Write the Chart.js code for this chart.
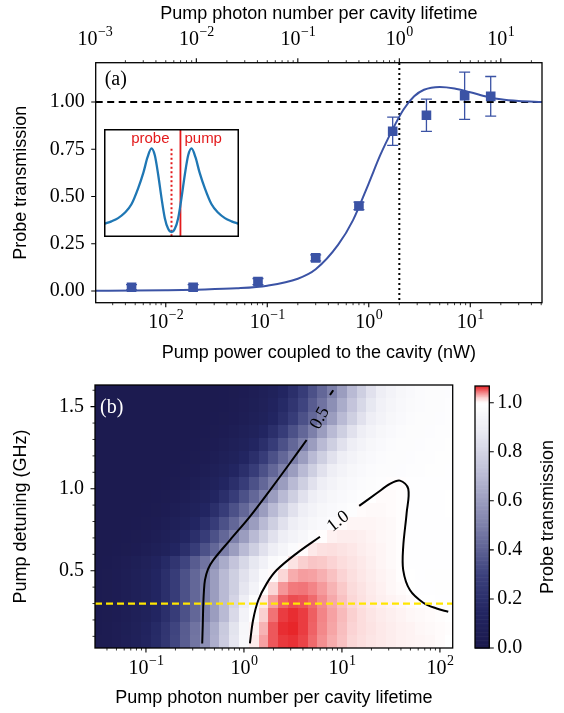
<!DOCTYPE html>
<html>
<head>
<meta charset="utf-8">
<script src="https://cdn.jsdelivr.net/npm/chart.js@4.4.1/dist/chart.umd.min.js"></script>
<style>
  body { margin: 0; background: #fff; }
  #wrap { position: relative; width: 564px; height: 713px; overflow: hidden; }
  canvas { position: absolute; }
</style>
</head>
<body>
<div id="wrap">
  <canvas id="topChart" width="564" height="370" style="left:0;top:0"></canvas>
  <canvas id="insetChart" width="135" height="108" style="left:104px;top:129px"></canvas>
  <canvas id="mapChart" width="564" height="343" style="left:0;top:370px"></canvas>
  <canvas id="cbarChart" width="124" height="343" style="left:440px;top:370px"></canvas>
</div>
<script>
// ---------- panel (a): probe transmission vs pump power ----------
const pumpPower = [0.0046, 0.0186, 0.081, 0.30, 0.80, 1.72, 3.7, 8.8, 15.9];   // nW
const probeTrans = [0.02, 0.02, 0.05, 0.175, 0.45, 0.845, 0.93, 1.033, 1.03];
const probeErr = [0.014, 0.014, 0.016, 0.016, 0.02, 0.075, 0.085, 0.125, 0.105];

const fitPower = [0.002, 0.005, 0.01, 0.02, 0.05, 0.1, 0.2, 0.3, 0.5, 0.7, 1.0, 1.3, 1.7, 2.2, 2.8, 3.5, 5, 7, 10, 15, 20, 30, 51];
const fitTrans = [0.001, 0.002, 0.004, 0.007, 0.014, 0.028, 0.065, 0.115, 0.245, 0.375, 0.57, 0.72, 0.85, 0.96, 1.03, 1.065, 1.08, 1.072, 1.052, 1.027, 1.014, 1.005, 1.0];

const transTicks = [0, 0.25, 0.5, 0.75, 1.0];
const oneHotPower = 2.0;          // nW for one photon per cavity lifetime (dotted line)
const photonsPerNW = 0.5;         // top axis conversion

// inset sketch: two dressed peaks, probe / pump positions
const insetDetuning = [-1.0, -0.9, -0.8, -0.7, -0.6, -0.5, -0.42, -0.36, -0.3, -0.25, -0.2, -0.15, -0.1, -0.05, 0.0, 0.05, 0.1, 0.15, 0.2, 0.25, 0.3, 0.36, 0.42, 0.5, 0.6, 0.7, 0.8, 0.9, 1.0];
const insetSpectrum = [0.118, 0.14, 0.17, 0.22, 0.3, 0.45, 0.6, 0.74, 0.825, 0.76, 0.58, 0.36, 0.17, 0.07, 0.04, 0.07, 0.17, 0.36, 0.58, 0.76, 0.825, 0.74, 0.6, 0.45, 0.3, 0.22, 0.17, 0.14, 0.118];
const probeLine = 0.0;
const pumpLine = 0.134;

// ---------- panel (b): map vs photon number and detuning ----------
const photonNumber = [0.0316, 0.0398, 0.0501, 0.0631, 0.0794, 0.1, 0.126, 0.158, 0.2, 0.251, 0.316, 0.398, 0.501, 0.631, 0.794, 1, 1.26, 1.58, 2.0, 2.51, 3.16, 3.98, 5.01, 6.31, 7.94, 10, 12.6, 15.8, 20, 25.1, 31.6, 39.8, 50.1, 63.1, 79.4, 100, 126];
const detuningGHz = [0.07, 0.15, 0.23, 0.31, 0.39, 0.47, 0.55, 0.63, 0.71, 0.79, 0.87, 0.95, 1.03, 1.11, 1.19, 1.27, 1.35, 1.43, 1.51, 1.59];
// one row per detuning (bottom to top), one value per photon number
const transMap = [
  [0.03,0.038,0.05,0.068,0.09,0.125,0.175,0.24,0.315,0.39,0.465,0.555,0.66,0.77,0.87,0.96,1.01,1.035,1.055,1.063,1.065,1.06,1.05,1.04,1.032,1.026,1.02,1.016,1.013,1.011,1.009,1.007,1.006,1.005,1.004,1.002,1.0],
  [0.027,0.035,0.047,0.065,0.087,0.12,0.17,0.235,0.31,0.385,0.46,0.55,0.65,0.76,0.86,0.95,1.006,1.03,1.055,1.066,1.068,1.062,1.052,1.042,1.034,1.027,1.021,1.017,1.014,1.011,1.009,1.007,1.006,1.004,1.003,1.002,1.001],
  [0.025,0.03,0.04,0.055,0.075,0.1,0.14,0.2,0.27,0.35,0.42,0.5,0.6,0.7,0.82,0.93,0.998,1.022,1.048,1.062,1.066,1.062,1.053,1.043,1.035,1.028,1.022,1.017,1.013,1.01,1.008,1.006,1.004,1.003,1.002,1.001,1.0],
  [0.025,0.03,0.04,0.055,0.075,0.1,0.14,0.2,0.27,0.35,0.42,0.5,0.6,0.7,0.8,0.9,0.99,1.012,1.036,1.052,1.058,1.056,1.05,1.041,1.033,1.026,1.02,1.015,1.011,1.008,1.006,1.004,1.002,1.0,0.998,0.997,0.996],
  [0.025,0.03,0.04,0.055,0.075,0.1,0.14,0.2,0.27,0.35,0.42,0.5,0.6,0.7,0.78,0.87,0.93,1.0,1.02,1.038,1.046,1.047,1.043,1.037,1.03,1.024,1.018,1.014,1.01,1.007,1.004,1.002,1.0,0.997,0.995,0.994,0.993],
  [0.025,0.03,0.04,0.055,0.075,0.1,0.14,0.2,0.27,0.35,0.42,0.5,0.6,0.7,0.78,0.85,0.9,0.97,1.002,1.02,1.032,1.036,1.035,1.031,1.026,1.021,1.016,1.012,1.009,1.006,1.004,1.001,0.998,0.996,0.994,0.993,0.992],
  [0.022,0.027,0.035,0.047,0.065,0.087,0.12,0.17,0.235,0.31,0.385,0.46,0.55,0.65,0.74,0.815,0.875,0.915,0.97,0.99,1.014,1.022,1.025,1.024,1.021,1.017,1.014,1.011,1.008,1.005,1.003,1.001,0.997,0.996,0.995,0.995,0.996],
  [0.02,0.02,0.025,0.03,0.04,0.055,0.075,0.1,0.14,0.2,0.27,0.35,0.42,0.5,0.6,0.7,0.78,0.85,0.9,0.94,0.975,1.002,1.011,1.015,1.016,1.014,1.012,1.009,1.007,1.005,1.003,1.001,0.997,0.996,0.996,0.996,0.997],
  [0.02,0.02,0.02,0.025,0.03,0.04,0.055,0.075,0.1,0.14,0.2,0.27,0.35,0.42,0.5,0.6,0.7,0.78,0.85,0.9,0.93,0.95,0.98,1.001,1.007,1.009,1.009,1.008,1.006,1.004,1.003,1.001,0.997,0.996,0.996,0.997,0.997],
  [0.02,0.02,0.02,0.02,0.025,0.03,0.04,0.055,0.075,0.1,0.14,0.2,0.27,0.35,0.42,0.5,0.6,0.7,0.78,0.85,0.9,0.93,0.95,0.965,0.985,1.002,1.005,1.005,1.005,1.004,1.003,1.001,0.997,0.996,0.996,0.997,0.997],
  [0.02,0.02,0.02,0.02,0.02,0.025,0.03,0.04,0.055,0.075,0.1,0.14,0.2,0.27,0.35,0.42,0.5,0.6,0.7,0.78,0.85,0.9,0.93,0.95,0.965,0.975,0.99,1.002,1.003,1.003,1.002,1.001,0.997,0.996,0.997,0.997,0.998],
  [0.02,0.02,0.02,0.02,0.02,0.02,0.025,0.03,0.04,0.055,0.075,0.1,0.14,0.2,0.27,0.35,0.42,0.5,0.6,0.7,0.78,0.85,0.9,0.93,0.95,0.965,0.975,0.99,1.0,1.002,1.002,1.001,0.996,0.996,0.997,0.997,0.998],
  [0.02,0.02,0.02,0.02,0.02,0.02,0.02,0.025,0.03,0.04,0.055,0.075,0.1,0.14,0.2,0.27,0.35,0.42,0.5,0.6,0.7,0.78,0.85,0.9,0.93,0.95,0.965,0.975,0.98,0.99,1.001,1.001,0.995,0.995,0.996,0.997,0.997],
  [0.02,0.02,0.02,0.02,0.02,0.02,0.02,0.02,0.025,0.03,0.04,0.055,0.075,0.1,0.14,0.2,0.27,0.35,0.42,0.5,0.6,0.7,0.78,0.85,0.9,0.93,0.95,0.965,0.975,0.98,0.983,0.985,0.988,0.99,0.992,0.994,0.995],
  [0.02,0.02,0.02,0.02,0.02,0.02,0.02,0.02,0.02,0.025,0.03,0.04,0.055,0.075,0.1,0.14,0.2,0.27,0.35,0.42,0.5,0.6,0.7,0.78,0.85,0.9,0.93,0.95,0.965,0.975,0.98,0.983,0.985,0.988,0.99,0.992,0.994],
  [0.02,0.02,0.02,0.02,0.02,0.02,0.02,0.02,0.02,0.02,0.025,0.03,0.04,0.055,0.075,0.1,0.14,0.2,0.27,0.35,0.42,0.5,0.6,0.7,0.78,0.85,0.9,0.93,0.95,0.965,0.975,0.98,0.983,0.985,0.988,0.99,0.992],
  [0.02,0.02,0.02,0.02,0.02,0.02,0.02,0.02,0.02,0.02,0.02,0.025,0.03,0.04,0.055,0.075,0.1,0.14,0.2,0.27,0.35,0.42,0.5,0.6,0.7,0.78,0.85,0.9,0.93,0.95,0.965,0.975,0.98,0.983,0.985,0.988,0.99],
  [0.02,0.02,0.02,0.02,0.02,0.02,0.02,0.02,0.02,0.02,0.02,0.02,0.025,0.03,0.04,0.055,0.075,0.1,0.14,0.2,0.27,0.35,0.42,0.5,0.6,0.7,0.78,0.85,0.9,0.93,0.95,0.965,0.975,0.98,0.983,0.985,0.988],
  [0.02,0.02,0.02,0.02,0.02,0.02,0.02,0.02,0.02,0.02,0.02,0.02,0.022,0.027,0.035,0.047,0.065,0.087,0.12,0.17,0.235,0.31,0.385,0.46,0.55,0.65,0.74,0.815,0.875,0.915,0.94,0.958,0.97,0.978,0.982,0.984,0.987],
  [0.02,0.02,0.02,0.02,0.02,0.02,0.02,0.02,0.02,0.02,0.02,0.02,0.02,0.025,0.03,0.04,0.055,0.075,0.1,0.14,0.2,0.27,0.35,0.42,0.5,0.6,0.7,0.78,0.85,0.9,0.93,0.95,0.965,0.975,0.98,0.983,0.985]
];

// contour lines (photon number, GHz)
const contourHalfA = [[0.375,0.057],[0.38,0.17],[0.384,0.28],[0.39,0.37],[0.40,0.443],[0.43,0.51],[0.486,0.565],[0.72,0.687],[1.15,0.83],[1.84,0.99],[2.94,1.155],[4.36,1.297]];
const contourHalfB = [[7.55,1.571],[8.15,1.60]];
const contourOneA = [[1.15,0.057],[1.24,0.2],[1.40,0.32],[1.71,0.423],[2.16,0.504],[3.45,0.606],[5.97,0.707]];
const contourOneB = [[15.0,0.895],[22.6,0.972],[30.9,1.029],[39.1,1.049],[47.5,1.0],[45.7,0.85],[42.2,0.646],[42.2,0.504],[49.4,0.382],[67.6,0.305],[92.5,0.27],[121.6,0.25]];
const contourLabels = [{ text: '0.5', n: 5.97, d: 1.43, rot: -62 }, { text: '1.0', n: 9.16, d: 0.80, rot: -38 }];
const cutDetuning = 0.30;
const mapTicksY = [0.5, 1.0, 1.5];
const cbarTicks = [0.0, 0.2, 0.4, 0.6, 0.8, 1.0];

// ---------- styling ----------
const SERIF = '"Liberation Serif", "DejaVu Serif", serif';
const SANS = '"Liberation Sans", "DejaVu Sans", sans-serif';
const TICK_PX = 20;
const LABEL_PX = 18;
const BLUE = '#3b53a5';
const RED = '#e31a1c';
const cmapStops = [
  [0.00, [27, 25, 77]],
  [0.15, [35, 38, 98]],
  [0.30, [60, 65, 125]],
  [0.50, [125, 128, 170]],
  [0.70, [185, 186, 212]],
  [0.90, [238, 238, 245]],
  [1.00, [255, 255, 255]],
  [1.02, [251, 215, 215]],
  [1.045, [242, 125, 128]],
  [1.07, [230, 30, 35]]
];

function cmap(v) {
  if (v <= cmapStops[0][0]) return 'rgb(' + cmapStops[0][1].join(',') + ')';
  for (let i = 1; i < cmapStops.length; i++) {
    if (v <= cmapStops[i][0]) {
      const [v0, c0] = cmapStops[i - 1];
      const [v1, c1] = cmapStops[i];
      const t = (v - v0) / (v1 - v0);
      return 'rgb(' + c0.map((c, k) => Math.round(c + (c1[k] - c) * t)).join(',') + ')';
    }
  }
  return 'rgb(' + cmapStops[cmapStops.length - 1][1].join(',') + ')';
}

function logTicks(min, max) {
  const major = [], minor = [];
  for (let k = Math.floor(Math.log10(min)); k <= Math.ceil(Math.log10(max)); k++) {
    for (let m = 1; m < 10; m++) {
      const v = m * Math.pow(10, k);
      if (v < min * 0.999 || v > max * 1.001) continue;
      (m === 1 ? major : minor).push(v);
    }
  }
  return { major, minor };
}

function hTicks(ctx, scale, vals, yEdge, len, dir) {
  ctx.beginPath();
  vals.forEach(v => {
    const px = scale.getPixelForValue(v);
    ctx.moveTo(px, yEdge);
    ctx.lineTo(px, yEdge + dir * len);
  });
  ctx.stroke();
}

function vTicks(ctx, scale, vals, xEdge, len, dir) {
  ctx.beginPath();
  vals.forEach(v => {
    const py = scale.getPixelForValue(v);
    ctx.moveTo(xEdge, py);
    ctx.lineTo(xEdge + dir * len, py);
  });
  ctx.stroke();
}

// "10" with a raised exponent, centred on x
function powLabel(ctx, x, y, exp, size) {
  const sup = exp < 0 ? '\u2212' + (-exp) : String(exp);
  ctx.font = size + 'px ' + SERIF;
  const wb = ctx.measureText('10').width;
  ctx.font = Math.round(size * 0.7) + 'px ' + SERIF;
  const ws = ctx.measureText(sup).width;
  const x0 = x - (wb + ws) / 2;
  ctx.textAlign = 'left';
  ctx.textBaseline = 'middle';
  ctx.font = size + 'px ' + SERIF;
  ctx.fillText('10', x0, y);
  ctx.font = Math.round(size * 0.7) + 'px ' + SERIF;
  ctx.fillText(sup, x0 + wb + 0.5, y - size * 0.38);
}

function vText(ctx, text, x, y) {
  ctx.save();
  ctx.translate(x, y);
  ctx.rotate(-Math.PI / 2);
  ctx.textAlign = 'center';
  ctx.textBaseline = 'middle';
  ctx.fillText(text, 0, 0);
  ctx.restore();
}

const pts = (xs, ys) => xs.map((x, i) => ({ x: x, y: ys[i] }));
const pairs = arr => arr.map(p => ({ x: p[0], y: p[1] }));

const baseOptions = {
  responsive: false,
  animation: false,
  events: [],
  devicePixelRatio: 1,
  plugins: { legend: { display: false }, tooltip: { enabled: false } }
};

// ---------- top chart ----------
const powerMin = 0.00204, powerMax = 50.9;

const topDecor = {
  id: 'topDecor',
  beforeDatasetsDraw(chart) {
    const { ctx } = chart;
    const { x, y } = chart.scales;
    ctx.save();
    ctx.strokeStyle = BLUE;
    ctx.lineWidth = 1.3;
    ctx.beginPath();
    pumpPower.forEach((p, i) => {
      const px = x.getPixelForValue(p);
      const y0 = y.getPixelForValue(probeTrans[i] - probeErr[i]);
      const y1 = y.getPixelForValue(probeTrans[i] + probeErr[i]);
      ctx.moveTo(px, y0); ctx.lineTo(px, y1);
      ctx.moveTo(px - 5.5, y0); ctx.lineTo(px + 5.5, y0);
      ctx.moveTo(px - 5.5, y1); ctx.lineTo(px + 5.5, y1);
    });
    ctx.stroke();
    ctx.restore();
  },
  afterDraw(chart) {
    const { ctx, chartArea: a } = chart;
    const { x, y, x2 } = chart.scales;
    ctx.save();
    ctx.strokeStyle = '#000';
    ctx.fillStyle = '#000';
    ctx.lineWidth = 1.3;
    ctx.strokeRect(a.left, a.top, a.right - a.left, a.bottom - a.top);
    const bt = logTicks(x.min, x.max);
    const tt = logTicks(x2.min, x2.max);
    ctx.lineWidth = 1.1;
    hTicks(ctx, x, bt.major, a.bottom, 4.5, 1);
    hTicks(ctx, x2, tt.major, a.top, 4.5, -1);
    vTicks(ctx, y, transTicks, a.left, 4.5, -1);
    ctx.lineWidth = 0.8;
    hTicks(ctx, x, bt.minor, a.bottom, 2.5, 1);
    hTicks(ctx, x2, tt.minor, a.top, 2.5, -1);

    bt.major.forEach(v => powLabel(ctx, x.getPixelForValue(v), a.bottom + 20, Math.round(Math.log10(v)), TICK_PX));
    [0.001, 0.01, 0.1, 1, 10].forEach(v => powLabel(ctx, x2.getPixelForValue(v), a.top - 23, Math.round(Math.log10(v)), TICK_PX));

    ctx.font = TICK_PX + 'px ' + SERIF;
    ctx.textAlign = 'right';
    ctx.textBaseline = 'middle';
    transTicks.forEach(v => ctx.fillText(v.toFixed(2), a.left - 11, y.getPixelForValue(v)));

    ctx.font = LABEL_PX + 'px ' + SANS;
    ctx.textAlign = 'center';
    ctx.fillText('Pump power coupled to the cavity (nW)', (a.left + a.right) / 2, a.bottom + 50);
    ctx.fillText('Pump photon number per cavity lifetime', (a.left + a.right) / 2, 14);
    vText(ctx, 'Probe transmission', 21, (a.top + a.bottom) / 2);

    ctx.font = '20px ' + SERIF;
    ctx.textAlign = 'left';
    ctx.fillText('(a)', a.left + 9, a.top + 17);
    ctx.restore();
  }
};

new Chart(document.getElementById('topChart'), {
  type: 'scatter',
  data: {
    datasets: [
      {
        data: pts(pumpPower, probeTrans),
        pointStyle: 'rect', pointRadius: 6.8,
        backgroundColor: BLUE, borderColor: BLUE, borderWidth: 0
      },
      {
        data: pts(fitPower, fitTrans),
        showLine: true, pointRadius: 0,
        borderColor: BLUE, borderWidth: 2,
        cubicInterpolationMode: 'monotone'
      },
      {
        data: [{ x: powerMin, y: 1 }, { x: powerMax, y: 1 }],
        showLine: true, pointRadius: 0,
        borderColor: '#000', borderWidth: 1.8, borderDash: [7, 4.5]
      },
      {
        data: [{ x: oneHotPower, y: -0.1 }, { x: oneHotPower, y: 1.3 }],
        showLine: true, pointRadius: 0,
        borderColor: '#000', borderWidth: 2, borderDash: [2, 3]
      }
    ]
  },
  options: {
    ...baseOptions,
    layout: { padding: { left: 95.7, right: 22, top: 62.7, bottom: 67.3 } },
    scales: {
      x: { type: 'logarithmic', min: powerMin, max: powerMax, display: false },
      x2: { type: 'logarithmic', position: 'top', min: powerMin * photonsPerNW, max: powerMax * photonsPerNW, display: false },
      y: { min: -0.062, max: 1.208, display: false }
    }
  },
  plugins: [topDecor]
});

// ---------- inset ----------
const insetDecor = {
  id: 'insetDecor',
  beforeDraw(chart) {
    const { ctx, chartArea: a } = chart;
    ctx.save();
    ctx.fillStyle = '#fff';
    ctx.fillRect(a.left, a.top, a.right - a.left, a.bottom - a.top);
    ctx.restore();
  },
  afterDraw(chart) {
    const { ctx, chartArea: a } = chart;
    const { x } = chart.scales;
    ctx.save();
    ctx.strokeStyle = '#000';
    ctx.lineWidth = 1.5;
    ctx.strokeRect(a.left, a.top, a.right - a.left, a.bottom - a.top);
    ctx.fillStyle = RED;
    ctx.font = '15px ' + SANS;
    ctx.textBaseline = 'middle';
    ctx.textAlign = 'right';
    ctx.fillText('probe', x.getPixelForValue(probeLine) - 2, a.top + 9);
    ctx.textAlign = 'left';
    ctx.fillText('pump', x.getPixelForValue(pumpLine) + 4, a.top + 9);
    ctx.restore();
  }
};

new Chart(document.getElementById('insetChart'), {
  type: 'scatter',
  data: {
    datasets: [
      {
        data: pts(insetDetuning, insetSpectrum),
        showLine: true, pointRadius: 0,
        borderColor: '#1f77b4', borderWidth: 2.3,
        cubicInterpolationMode: 'monotone'
      },
      {
        data: [{ x: probeLine, y: 0 }, { x: probeLine, y: 0.83 }],
        showLine: true, pointRadius: 0,
        borderColor: RED, borderWidth: 2, borderDash: [2, 2.5]
      },
      {
        data: [{ x: pumpLine, y: 0 }, { x: pumpLine, y: 1 }],
        showLine: true, pointRadius: 0,
        borderColor: RED, borderWidth: 1.8
      }
    ]
  },
  options: {
    ...baseOptions,
    layout: { padding: 0.75 },
    scales: {
      x: { min: -1, max: 1, display: false },
      y: { min: 0, max: 1, display: false }
    }
  },
  plugins: [insetDecor]
});

// ---------- map ----------
const mapMinN = 0.0302, mapMaxN = 135, mapMinD = 0.029, mapMaxD = 1.632;

function cellEdges(centres, geometric) {
  const e = [];
  for (let i = 0; i <= centres.length; i++) {
    if (i === 0) {
      e.push(geometric ? centres[0] * Math.sqrt(centres[0] / centres[1]) : centres[0] - (centres[1] - centres[0]) / 2);
    } else if (i === centres.length) {
      const n = centres.length - 1;
      e.push(geometric ? centres[n] * Math.sqrt(centres[n] / centres[n - 1]) : centres[n] + (centres[n] - centres[n - 1]) / 2);
    } else {
      e.push(geometric ? Math.sqrt(centres[i - 1] * centres[i]) : (centres[i - 1] + centres[i]) / 2);
    }
  }
  return e;
}

const mapDecor = {
  id: 'mapDecor',
  beforeDatasetsDraw(chart) {
    const { ctx, chartArea: a } = chart;
    const { x, y } = chart.scales;
    const ex = cellEdges(photonNumber, true);
    const ey = cellEdges(detuningGHz, false);
    ctx.save();
    ctx.beginPath();
    ctx.rect(a.left, a.top, a.right - a.left, a.bottom - a.top);
    ctx.clip();
    transMap.forEach((row, j) => {
      const y0 = Math.round(y.getPixelForValue(ey[j]));
      const y1 = Math.round(y.getPixelForValue(ey[j + 1]));
      row.forEach((v, i) => {
        const x0 = Math.round(x.getPixelForValue(ex[i]));
        const x1 = Math.round(x.getPixelForValue(ex[i + 1]));
        ctx.fillStyle = cmap(v);
        ctx.fillRect(x0, y1, x1 - x0, y0 - y1);
      });
    });
    ctx.restore();
  },
  afterDraw(chart) {
    const { ctx, chartArea: a } = chart;
    const { x, y } = chart.scales;
    ctx.save();
    ctx.strokeStyle = '#000';
    ctx.fillStyle = '#000';
    ctx.lineWidth = 1.3;
    ctx.strokeRect(a.left, a.top, a.right - a.left, a.bottom - a.top);
    const bt = logTicks(x.min, x.max);
    const minorY = [];
    for (let k = 1; k <= 16; k++) if (k % 5 !== 0) minorY.push(k / 10);
    ctx.lineWidth = 1.1;
    hTicks(ctx, x, bt.major, a.bottom, 4.5, 1);
    vTicks(ctx, y, mapTicksY, a.left, 4.5, -1);
    ctx.lineWidth = 0.8;
    hTicks(ctx, x, bt.minor, a.bottom, 2.5, 1);
    vTicks(ctx, y, minorY, a.left, 2.5, -1);

    bt.major.forEach(v => powLabel(ctx, x.getPixelForValue(v), a.bottom + 21, Math.round(Math.log10(v)), TICK_PX));
    ctx.font = TICK_PX + 'px ' + SERIF;
    ctx.textAlign = 'right';
    ctx.textBaseline = 'middle';
    mapTicksY.forEach(v => ctx.fillText(v.toFixed(1), a.left - 11, y.getPixelForValue(v)));

    ctx.font = LABEL_PX + 'px ' + SANS;
    ctx.textAlign = 'center';
    ctx.fillText('Pump photon number per cavity lifetime', (a.left + a.right) / 2, a.bottom + 50);
    vText(ctx, 'Pump detuning (GHz)', 21, (a.top + a.bottom) / 2);

    ctx.font = '18px ' + SERIF;
    contourLabels.forEach(l => {
      ctx.save();
      ctx.translate(x.getPixelForValue(l.n), y.getPixelForValue(l.d));
      ctx.rotate(l.rot * Math.PI / 180);
      ctx.textAlign = 'center';
      ctx.textBaseline = 'middle';
      ctx.fillText(l.text, 0, 0);
      ctx.restore();
    });

    ctx.fillStyle = '#fff';
    ctx.font = '20px ' + SERIF;
    ctx.textAlign = 'left';
    ctx.fillText('(b)', a.left + 5, a.top + 23);
    ctx.restore();
  }
};

const contourStyle = { showLine: true, pointRadius: 0, borderColor: '#000', borderWidth: 2, tension: 0.35 };

new Chart(document.getElementById('mapChart'), {
  type: 'scatter',
  data: {
    datasets: [
      {
        data: [{ x: mapMinN, y: cutDetuning }, { x: mapMaxN, y: cutDetuning }],
        showLine: true, pointRadius: 0,
        borderColor: '#ffe600', borderWidth: 2.2, borderDash: [7, 4]
      },
      { data: pairs(contourHalfA), ...contourStyle },
      { data: pairs(contourHalfB), ...contourStyle },
      { data: pairs(contourOneA), ...contourStyle },
      { data: pairs(contourOneB), ...contourStyle }
    ]
  },
  options: {
    ...baseOptions,
    layout: { padding: { left: 95, right: 111.3, top: 15, bottom: 65 } },
    scales: {
      x: { type: 'logarithmic', min: mapMinN, max: mapMaxN, display: false },
      y: { min: mapMinD, max: mapMaxD, display: false }
    }
  },
  plugins: [mapDecor]
});

// ---------- colour bar ----------
const cbarMax = 1.068;
const cbarDecor = {
  id: 'cbarDecor',
  afterDraw(chart) {
    const { ctx, chartArea: a } = chart;
    const { y } = chart.scales;
    ctx.save();
    const steps = 200;
    for (let k = 0; k < steps; k++) {
      const v0 = cbarMax * k / steps, v1 = cbarMax * (k + 1) / steps;
      const p0 = y.getPixelForValue(v0), p1 = y.getPixelForValue(v1);
      ctx.fillStyle = cmap((v0 + v1) / 2);
      ctx.fillRect(a.left, p1, a.right - a.left, p0 - p1 + 0.6);
    }
    ctx.strokeStyle = '#000';
    ctx.fillStyle = '#000';
    ctx.lineWidth = 1.3;
    ctx.strokeRect(a.left, a.top, a.right - a.left, a.bottom - a.top);
    ctx.lineWidth = 1.1;
    vTicks(ctx, y, cbarTicks, a.right, 4.5, 1);
    ctx.font = TICK_PX + 'px ' + SERIF;
    ctx.textAlign = 'left';
    ctx.textBaseline = 'middle';
    cbarTicks.forEach(v => ctx.fillText(v.toFixed(1), a.right + 8, y.getPixelForValue(v)));
    ctx.font = LABEL_PX + 'px ' + SANS;
    vText(ctx, 'Probe transmission', 108, (a.top + a.bottom) / 2);
    ctx.restore();
  }
};

new Chart(document.getElementById('cbarChart'), {
  type: 'scatter',
  data: { datasets: [] },
  options: {
    ...baseOptions,
    layout: { padding: { left: 35, right: 74.7, top: 16, bottom: 65 } },
    scales: {
      x: { min: 0, max: 1, display: false },
      y: { min: 0, max: cbarMax, display: false }
    }
  },
  plugins: [cbarDecor]
});
</script>
</body>
</html>
